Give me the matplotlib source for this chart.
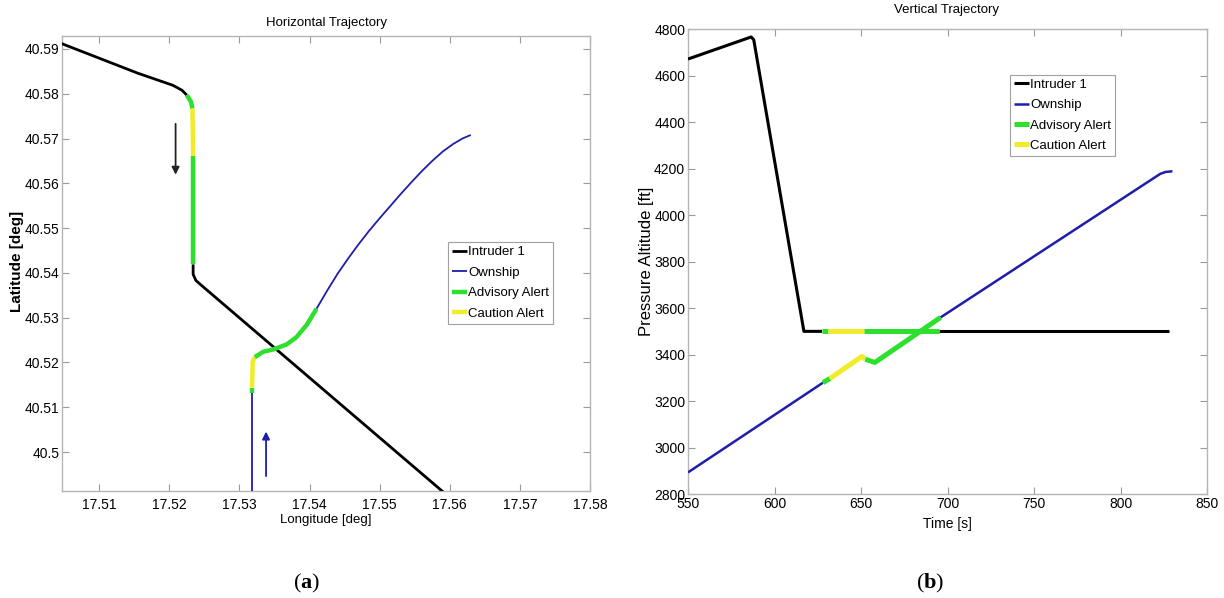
import matplotlib
matplotlib.use("Agg")
import matplotlib.pyplot as plt

plt.rcParams['font.family'] = ['Liberation Sans', 'DejaVu Sans']
plt.rcParams['mathtext.fontset'] = 'custom'
plt.rcParams['mathtext.rm'] = 'Liberation Serif'
plt.rcParams['mathtext.bf'] = 'Liberation Serif:bold'

# ---- horizontal trajectory (lon, lat) ----
# state per segment: n = normal, a = advisory, c = caution
int_lon = [17.5040, 17.5155, 17.5205, 17.5218, 17.5225, 17.5231, 17.5233,
           17.5234, 17.5234, 17.5234, 17.5238, 17.5246, 17.5595]
int_lat = [40.5916, 40.5846, 40.5819, 40.5808, 40.5797, 40.5782, 40.5767,
           40.5660, 40.5419, 40.5397, 40.5383, 40.5372, 40.4905]
int_state = ['n', 'n', 'n', 'n', 'a', 'a', 'c', 'a', 'n', 'n', 'n', 'n']

own_lon = [17.5318, 17.5318, 17.5318, 17.5319, 17.5322, 17.5334, 17.5348,
           17.5367, 17.5381, 17.5396, 17.5410, 17.5425, 17.5440, 17.5455,
           17.5470, 17.5485, 17.5500, 17.5515, 17.5530, 17.5545, 17.5560,
           17.5575, 17.5590, 17.5605, 17.5618, 17.5630]
own_lat = [40.4900, 40.5131, 40.5144, 40.5203, 40.5212, 40.5224, 40.5229,
           40.5240, 40.5256, 40.5284, 40.5320, 40.5360, 40.5398, 40.5432,
           40.5464, 40.5494, 40.5522, 40.5549, 40.5576, 40.5602, 40.5627,
           40.5650, 40.5671, 40.5688, 40.5700, 40.5708]
own_state = ['n', 'a', 'c', 'c', 'a', 'a', 'a', 'a', 'a', 'a',
             'n', 'n', 'n', 'n', 'n', 'n', 'n', 'n', 'n', 'n', 'n', 'n',
             'n', 'n', 'n']

# direction arrows (tail lon, tail lat, tip lon, tip lat)
arrow_int = [17.5209, 40.5739, 17.5209, 40.5613]
arrow_own = [17.5338, 40.4940, 17.5338, 40.5052]

lon_ticks = [17.51, 17.52, 17.53, 17.54, 17.55, 17.56, 17.57, 17.58]
lat_ticks = [40.50, 40.51, 40.52, 40.53, 40.54, 40.55, 40.56, 40.57, 40.58, 40.59]

# ---- vertical trajectory (time, altitude) ----
int_t = [550, 586.5, 588, 617, 627.5, 631, 652, 695, 828]
int_alt = [4672, 4767, 4755, 3500, 3500, 3500, 3500, 3500, 3500]
int_t_state = ['n', 'n', 'n', 'n', 'a', 'c', 'a', 'n']

own_t = [550, 628, 632, 650.5, 652.5, 658, 696, 823, 826, 830]
own_alt = [2893, 3279, 3297, 3392, 3380, 3366, 3560, 4178, 4186, 4189]
own_t_state = ['n', 'a', 'c', 'c', 'a', 'a', 'n', 'n', 'n']

time_ticks = [550, 600, 650, 700, 750, 800, 850]
alt_ticks = list(range(2800, 4801, 200))

colors = {'int': 'black', 'own': '#1e1eaa', 'a': '#2ee02e', 'c': '#f0ec2a'}
labels = {'int': 'Intruder 1', 'own': 'Ownship', 'a': 'Advisory Alert', 'c': 'Caution Alert'}


def draw_track(ax, xs, ys, states, who, lw_base, lw_alert, handles):
    i = 0
    while i < len(states):
        j = i
        while j < len(states) and states[j] == states[i]:
            j += 1
        key = who if states[i] == 'n' else states[i]
        lw = lw_base if states[i] == 'n' else lw_alert
        ln, = ax.plot(xs[i:j + 1], ys[i:j + 1], color=colors[key], lw=lw,
                      solid_capstyle='butt', zorder=3 if states[i] == 'n' else 4)
        handles.setdefault(key, ln)
        i = j


def style_axes(ax):
    for s in ax.spines.values():
        s.set_color('#b5b5b5')
        s.set_linewidth(1)
    ax.tick_params(direction='in', length=5, width=0.8, color='#9a9a9a',
                   top=True, right=True, labelsize=10)


def add_legend(ax, h, anchor):
    order = ['int', 'own', 'a', 'c']
    leg = ax.legend([h[k] for k in order], [labels[k] for k in order],
                    loc='upper left', bbox_to_anchor=anchor, borderaxespad=0,
                    fontsize=9.5, handlelength=1.15, handletextpad=0.1,
                    labelspacing=0.62, borderpad=0.3, fancybox=False, framealpha=1)
    leg.get_frame().set_edgecolor('#a0a0a0')
    leg.get_frame().set_linewidth(0.8)
    return leg


fig = plt.figure(figsize=(12.24, 5.98), dpi=100)
ax1 = fig.add_axes([62 / 1224, 1 - 491 / 598, 528 / 1224, 455 / 598])
ax2 = fig.add_axes([688 / 1224, 1 - 494 / 598, 519 / 1224, 464.7 / 598])

# left panel
h1 = {}
draw_track(ax1, int_lon, int_lat, int_state, 'int', 2.0, 3.2, h1)
draw_track(ax1, own_lon, own_lat, own_state, 'own', 1.3, 3.2, h1)
ax1.annotate('', xy=(arrow_int[2], arrow_int[3]), xytext=(arrow_int[0], arrow_int[1]),
             arrowprops=dict(arrowstyle='-|>', color='#222222', lw=1.3, mutation_scale=11))
ax1.annotate('', xy=(arrow_own[2], arrow_own[3]), xytext=(arrow_own[0], arrow_own[1]),
             arrowprops=dict(arrowstyle='-|>', color='#1e1eaa', lw=1.3, mutation_scale=11))
ax1.set_xlim(17.5047, 17.5800)
ax1.set_ylim(40.4913, 40.5929)
ax1.set_xticks(lon_ticks)
ax1.set_xticklabels(['%g' % v for v in lon_ticks])
ax1.set_yticks(lat_ticks)
ax1.set_yticklabels(['%g' % v for v in lat_ticks])
style_axes(ax1)
ax1.tick_params(axis='x', pad=5)
ax1.tick_params(axis='y', pad=2)
ax1.set_xlabel('Longitude [deg]', fontsize=9.5)
ax1.xaxis.set_label_coords(0.500, -(520 - 491) / 455)
ax1.xaxis.label.set_va('center')
ax1.set_ylabel('Latitude [deg]', fontsize=11, fontweight='bold')
ax1.yaxis.set_label_coords(-(62 - 17) / 528, 0.505)
ax1.yaxis.label.set_va('center')
add_legend(ax1, h1, (0.731, 0.547))

# right panel
h2 = {}
draw_track(ax2, int_t, int_alt, int_t_state, 'int', 2.2, 3.6, h2)
draw_track(ax2, own_t, own_alt, own_t_state, 'own', 1.8, 3.6, h2)
ax2.set_xlim(550, 850)
ax2.set_ylim(2800, 4800)
ax2.set_xticks(time_ticks)
ax2.set_yticks(alt_ticks)
style_axes(ax2)
ax2.tick_params(axis='x', pad=2)
ax2.tick_params(axis='y', pad=2)
ax2.set_xlabel('Time [s]', fontsize=10)
ax2.xaxis.set_label_coords(0.5, -(524 - 494) / 464.7)
ax2.xaxis.label.set_va('center')
ax2.set_ylabel('Pressure Altitude [ft]', fontsize=12)
ax2.yaxis.set_label_coords(-(688 - 646) / 519, 0.5)
ax2.yaxis.label.set_va('center')
add_legend(ax2, h2, (0.620, 0.9025))

# titles and captions
fig.text(326 / 1224, 1 - 23 / 598, 'Horizontal Trajectory', ha='center', va='center', fontsize=9.5)
fig.text(947 / 1224, 1 - 10 / 598, 'Vertical Trajectory', ha='center', va='center', fontsize=9.5)
fig.text(307 / 1224, 1 - 583 / 598, r'($\mathbf{a}$)', ha='center', va='center',
         fontsize=16, family='Liberation Serif')
fig.text(930 / 1224, 1 - 583 / 598, r'($\mathbf{b}$)', ha='center', va='center',
         fontsize=16, family='Liberation Serif')

fig.savefig('out.png', dpi=100, facecolor='white')
